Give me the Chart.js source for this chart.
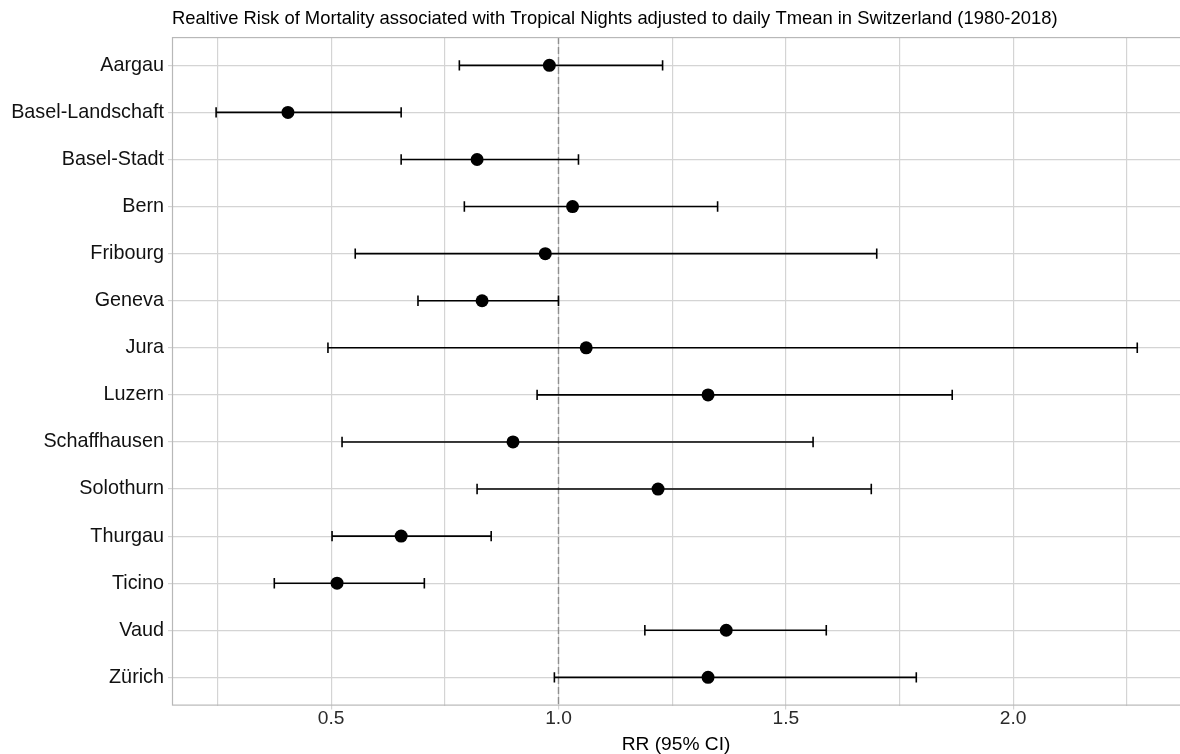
<!DOCTYPE html>
<html>
<head>
<meta charset="utf-8">
<script src="https://cdn.jsdelivr.net/npm/chart.js@4/dist/chart.umd.min.js"></script>
<style>
  html, body { margin: 0; padding: 0; background: #ffffff; }
  #wrap { width: 1180px; height: 754px; }
</style>
</head>
<body>
<div id="wrap"><canvas id="c" width="1180" height="754"></canvas></div>
<script>
// ---- Data ----
const regions = ["Aargau", "Basel-Landschaft", "Basel-Stadt", "Bern", "Fribourg", "Geneva", "Jura",
  "Luzern", "Schaffhausen", "Solothurn", "Thurgau", "Ticino", "Vaud", "Zürich"];
const rr    = [0.98, 0.405, 0.821, 1.031, 0.971, 0.832, 1.061, 1.329, 0.900, 1.219, 0.654, 0.513, 1.369, 1.329];
const ciLow = [0.782, 0.247, 0.654, 0.793, 0.553, 0.691, 0.493, 0.953, 0.524, 0.821, 0.502, 0.375, 1.190, 0.991];
const ciHigh= [1.229, 0.654, 1.044, 1.350, 1.700, 1.000, 2.273, 1.866, 1.560, 1.688, 0.852, 0.705, 1.589, 1.787];
const xGridValues  = [0.25, 0.5, 0.75, 1.0, 1.25, 1.5, 1.75, 2.0, 2.25];
const xLabelValues = [0.5, 1.0, 1.5, 2.0];
const refValue = 1.0;
const titleText = "Realtive Risk of Mortality associated with Tropical Nights adjusted to daily Tmean in Switzerland (1980-2018)";
const xTitleText = "RR (95% CI)";

// ---- Build datasets ----
const lineData = [];
regions.forEach((r, i) => {
  lineData.push({x: ciLow[i], y: i + 1});
  lineData.push({x: ciHigh[i], y: i + 1});
  lineData.push({x: null, y: null});
});
const capData = [];
regions.forEach((r, i) => {
  capData.push({x: ciLow[i], y: i + 1});
  capData.push({x: ciHigh[i], y: i + 1});
});
const pointData = regions.map((r, i) => ({x: rr[i], y: i + 1}));

const FONT = '"Liberation Sans", Arial, Helvetica, sans-serif';
const GRID = '#d4d4d4';
const FRAME = '#b8b8b8';

const framePlugin = {
  id: 'frame',
  afterDatasetsDraw(chart) {
    const a = chart.chartArea, ctx = chart.ctx;
    ctx.save();
    ctx.strokeStyle = FRAME;
    ctx.lineWidth = 1.2;
    ctx.strokeRect(a.left + 0.5, a.top + 0.5, a.right - a.left + 2, a.bottom - a.top - 1);
    ctx.restore();
  }
};

new Chart(document.getElementById('c'), {
  type: 'scatter',
  data: {
    datasets: [
      { type: 'scatter', data: pointData, pointRadius: 6.5, pointHoverRadius: 6.5,
        backgroundColor: '#000', borderColor: '#000', borderWidth: 0, order: 0 },
      { type: 'scatter', data: capData, pointStyle: 'line', rotation: 90, pointRadius: 5.2,
        pointHoverRadius: 5.2, borderColor: '#000', borderWidth: 1.6, order: 1 },
      { type: 'line', data: lineData, borderColor: '#000', borderWidth: 1.6, pointRadius: 0,
        spanGaps: false, fill: false, order: 2 },
      { type: 'line', data: [{x: refValue, y: 0.4}, {x: refValue, y: 14.6}], borderColor: '#8f8f8f',
        borderWidth: 1.4, borderDash: [7, 3], pointRadius: 0, fill: false, order: 3 }
    ]
  },
  options: {
    responsive: false,
    animation: false,
    events: [],
    layout: { autoPadding: false, padding: { left: 0, right: 0, top: 0, bottom: 0 } },
    plugins: {
      legend: { display: false },
      tooltip: { enabled: false },
      title: {
        display: true, text: titleText, align: 'start', fullSize: false,
        color: '#000', font: { family: FONT, size: 18.4, weight: 'normal', lineHeight: 1.2 },
        padding: { top: 8, bottom: 7 }
      }
    },
    scales: {
      x: {
        type: 'linear', min: 0.15, max: 2.367,
        afterBuildTicks: (s) => { s.ticks = xGridValues.map(v => ({value: v})); },
        afterFit: (s) => { s.paddingLeft = 0; s.paddingRight = 0; },
        ticks: {
          autoSkip: false, maxRotation: 0, color: '#2a2a2a', padding: 0,
          font: { family: FONT, size: 19.2, lineHeight: 1 },
          callback: (v) => xLabelValues.includes(v) ? v.toFixed(1) : ''
        },
        grid: { color: GRID, lineWidth: 1.2, tickLength: 4,
          tickColor: (c) => (c.tick && xLabelValues.includes(c.tick.value)) ? GRID : 'rgba(0,0,0,0)' },
        border: { display: false },
        title: { display: true, text: xTitleText, color: '#000',
          font: { family: FONT, size: 19.2, lineHeight: 1 }, padding: { top: 6, bottom: 0 } }
      },
      y: {
        type: 'linear', min: 0.4, max: 14.6, reverse: true,
        afterBuildTicks: (s) => { s.ticks = regions.map((r, i) => ({value: i + 1})); },
        afterFit: (s) => { s.width = 172; s.paddingTop = 0; s.paddingBottom = 0; },
        ticks: {
          autoSkip: false, color: '#111', padding: 4,
          font: { family: FONT, size: 19.8 },
          callback: (v) => regions[v - 1]
        },
        grid: { color: GRID, lineWidth: 1.2, tickLength: 4 },
        border: { display: false }
      }
    }
  },
  plugins: [framePlugin]
});
</script>
</body>
</html>
